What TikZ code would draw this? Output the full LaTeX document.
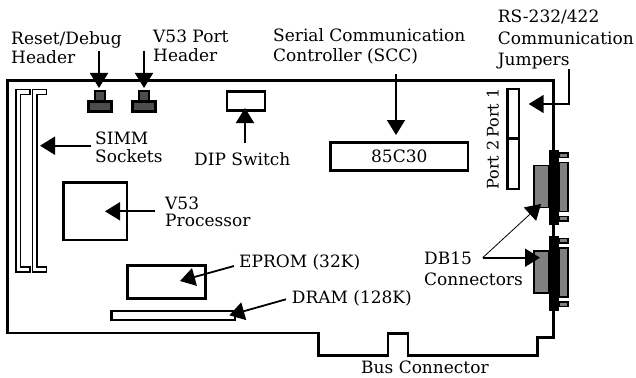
\documentclass[tikz,border=0pt]{standalone}
\usepackage{fontspec}
\setmainfont{DejaVu Serif}
\usetikzlibrary{arrows.meta,positioning}
\tikzset{
 lbl/.style
  = {anchor=north west, inner sep=0pt, align=left, font=\fontsize{17}{19.5}\selectfont},
 box/.style
  = {rectangle, draw, line width=2.5pt, inner sep=0pt, outer sep=0pt},
 hdr/.style
  = {box, fill=black!70},
 socket/.style
  = {draw, line width=1.3pt},
 body/.style
  = {rectangle, draw, line width=1.5pt, fill=black!50, inner sep=0pt, outer sep=0pt},
 flange/.style
  = {rectangle, fill=black, inner sep=0pt, outer sep=0pt, minimum width=10pt},
 l/.style
  = {draw, line width=1.8pt, -{Triangle[length=15pt,width=18pt]}},
 lthin/.style
  = {draw, line width=0.8pt, -{Triangle[length=15pt,width=18pt]}},
}
\begin{document}
\begin{tikzpicture}[x=1pt,y=-1pt]
\useasboundingbox (0,0) rectangle (636,377);

% Board outline
\draw[line width=2.5pt, line join=miter] (7.5,80.5) -- (553.7,80.5) -- (553.7,337.7) -- (537.7,337.7)
  -- (537.7,355.3) -- (408,355.3) -- (408,333.7) -- (388,333.7) -- (388,355.3)
  -- (318.5,355.3) -- (318.5,333) -- (7.5,333) -- cycle;

% SIMM sockets
\foreach \sx in {16,32.5}
  \draw[socket] (\sx,89.5) -- ++(14,0) -- ++(0,5) -- ++(-9.5,0) -- (\sx+4.5,267) -- ++(9.5,0)
    -- ++(0,5) -- ++(-14,0) -- cycle;

% Headers
\foreach \hname/\hx in {reset/100,port/144} {
  \node[hdr, minimum width=10pt, minimum height=10pt] (\hname top) at (\hx,96) {};
  \node[hdr, minimum width=23pt, minimum height=10pt] (\hname) at (\hx,106.5) {};
}

% Chips
\node[box, minimum width=38pt, minimum height=19pt] (dip) at (246,101) {};
\node[box, minimum width=137.5pt, minimum height=28pt, font=\fontsize{17}{18}\selectfont] (scc) at (399.3,156.5) {85C30};
\node[box, minimum width=63.5pt, minimum height=57.5pt] (cpu) at (95,211) {};
\node[box, minimum width=78pt, minimum height=33pt] (eprom) at (166.7,282) {};
\node[box, minimum width=123.5pt, minimum height=9pt] (dram) at (173,315.5) {};

% Jumpers
\node[box, minimum width=11.5pt, minimum height=49.5pt] (port1) at (513,114) {};
\node[box, minimum width=11.5pt, minimum height=50.3pt] (port2) at (513,163.8) {};
\node[rotate=90, anchor=base, inner sep=0pt, font=\fontsize{16}{18}\selectfont] (port1lbl) at (498.7,113) {Port 1};
\node[rotate=90, anchor=base, inner sep=0pt, font=\fontsize{16}{18}\selectfont] (port2lbl) at (498.7,165) {Port 2};

% DB15 connectors
\foreach \conn/\dy in {dba/0,dbb/85.5} {
  \node[body, minimum width=15pt, minimum height=42pt] (\conn left) at (541.5,186.5+\dy) {};
  \node[body, minimum width=9pt, minimum height=49pt] (\conn right) at (563.5,187+\dy) {};
  \node[body, minimum width=9pt, minimum height=4.5pt] (\conn tabt) at (563.5,155+\dy) {};
  \node[body, minimum width=9pt, minimum height=4.5pt] (\conn tabb) at (563.5,218.5+\dy) {};
  \node[flange, minimum height=75pt] (\conn) at (554,187.5+\dy) {};
}

% Labels
\node[lbl] (resetlbl) at (11,31.1) {Reset/Debug\\Header};
\node[lbl] (portlbl) at (153,29.3) {V53 Port\\Header};
\node[lbl] (scclbl) at (273,28.8) {Serial Communication\\Controller (SCC)};
\node[lbl] (jumplbl) at (497.7,9.8) {RS-232/422\\[2pt]Communication\\[2pt]Jumpers};
\node[lbl] (simmlbl) at (95,131.6) {SIMM\\[-1pt]Sockets};
\node[lbl] (diplbl) at (194,152.8) {DIP Switch};
\node[lbl] (cpulbl) at (165,196.3) {V53\\[-2pt]Processor};
\node[lbl] (epromlbl) at (239,254.1) {EPROM (32K)};
\node[lbl] (dramlbl) at (291.7,290.8) {DRAM (128K)};
\node[lbl] (dblbl) at (424,251.3) {DB15\\[2pt]Connectors};
\node[lbl] (buslbl) at (361,360.8) {Bus Connector};

% Arrow ends
\coordinate (resetTail) at (99,51);
\coordinate (resetTip) at (99,88);
\coordinate (portTail) at (144,51);
\coordinate (portTip) at (144,88);
\coordinate (sccTail) at (396,74);
\coordinate (sccTip) at (396,135);
\coordinate (dipTail) at (245,143);
\coordinate (dipTip) at (245,108);
\coordinate (simmTail) at (90.7,145.7);
\coordinate (simmTip) at (40,145.7);
\coordinate (cpuTail) at (155,211.3);
\coordinate (cpuTip) at (105,211.3);
\coordinate (epromTail) at (234,266);
\coordinate (epromTip) at (180,281);
\coordinate (dramTail) at (286,299.3);
\coordinate (dramTip) at (229.3,315.3);
\coordinate (jumpTail) at (569.3,69);
\coordinate (jumpBend) at (569.3,104);
\coordinate (jumpTip) at (528.7,104);
\coordinate (dbTail) at (482.7,257.7);
\coordinate (dbaTip) at (541,204);
\coordinate (dbbTip) at (540,257.7);

% Arrows
\draw[l] (resetTail) -- (resetTip);
\draw[l] (portTail) -- (portTip);
\draw[l] (sccTail) -- (sccTip);
\draw[l] (dipTail) -- (dipTip);
\draw[l] (simmTail) -- (simmTip);
\draw[l] (cpuTail) -- (cpuTip);
\draw[l] (epromTail) -- (epromTip);
\draw[l] (dramTail) -- (dramTip);
\draw[l] (jumpTail) -- (jumpBend) -- (jumpTip);
\draw[l] (dbTail) -- (dbbTip);
\draw[lthin] (dbTail) -- (dbaTip);

\end{tikzpicture}
\end{document}
